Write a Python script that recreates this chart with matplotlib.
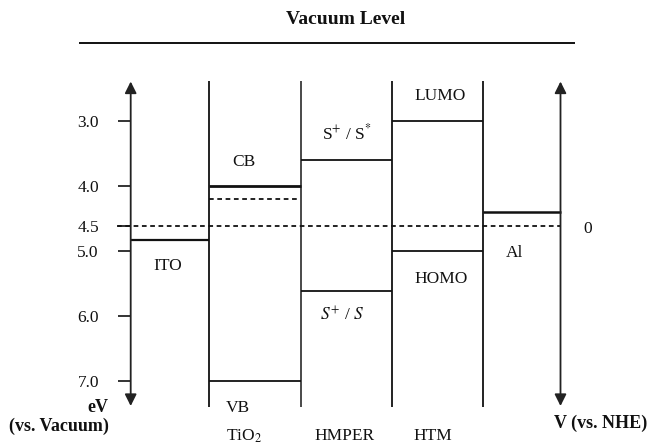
import numpy as np
import matplotlib
matplotlib.use("Agg")
import matplotlib.pyplot as plt

plt.rcParams['font.family'] = ['Liberation Serif', 'DejaVu Serif']
plt.rcParams['mathtext.fontset'] = 'stix'

# ---------------- data (energies in eV vs. vacuum) ----------------
materials = ["ITO", "TiO$_2$", "HMPER", "HTM", "Al"]
ito_work_function = 4.77
tio2_cb = 4.0
tio2_quasi_fermi = 4.16
tio2_vb = 7.0
dye_excited = 3.61      # S+/S*
dye_ground = 5.62       # S+/S
htm_lumo = 3.0
htm_homo = 5.0
al_work_function = 4.33
nhe_zero = 4.5
ev_ticks = [3.0, 4.0, 4.5, 5.0, 6.0, 7.0]
ev_tick_labels = ["3.0", "4.0", "4.5", "5.0", "6.0", "7.0"]

# ---------------- scale: original axis is stretched around 4.5 eV ----------------
def fwd(v):
    v = np.asarray(v, dtype=float)
    return v + np.interp(v, [4.0, 4.5, 5.0], [0.0, 0.12, 0.0])

def inv(t):
    t = np.asarray(t, dtype=float)
    return t + np.interp(t, [4.0, 4.62, 5.0], [0.0, -0.12, 0.0])

W, H = 651, 445
PX_PER_EV = 65.1
Y3 = 120.7

def ev_at(p):
    """layout helper: pixel row -> energy value on the scale"""
    return float(inv(3.0 + (p - Y3) / PX_PER_EV))

fig = plt.figure(figsize=(W / 100, H / 100), dpi=100)
ax = fig.add_axes([0, 0, 1, 1])
ax.set_xlim(0, W)
ax.set_yscale('function', functions=(fwd, inv))
ax.set_ylim(ev_at(H), ev_at(0))
for s in ax.spines.values():
    s.set_visible(False)

edges = [130.7, 209, 300.7, 391.7, 483, 560.5]
ink = '#111111'
gray = '#3a3a3a'

# column separators
ax.vlines(edges[1:-1], ev_at(406.7), ev_at(81), colors=[ink, gray, ink, ink], lw=1.3)

# energy axes (double arrows)
for xe in (edges[0], edges[-1]):
    ax.annotate('', xy=(xe, ev_at(81.5)), xytext=(xe, ev_at(406)),
                arrowprops=dict(arrowstyle='<|-|>,head_length=0.7,head_width=0.35',
                                color='#222222', lw=1.3,
                                mutation_scale=10, shrinkA=0, shrinkB=0))

# y ticks on the left arrow
ax.spines['left'].set_position(('data', edges[0]))
ax.set_yticks(ev_ticks, ev_tick_labels)
ax.set_yticks([], minor=True)
ax.tick_params(axis='y', direction='out', length=9.4, width=1.2, pad=13.5,
               labelsize=12.5, colors=ink)
ax.tick_params(axis='x', bottom=False, labelbottom=False)

# energy levels
ax.hlines(ito_work_function, edges[0], edges[1], colors=ink, lw=1.6)
ax.hlines(tio2_cb, edges[1], edges[2], colors=ink, lw=2.0)
ax.hlines(tio2_quasi_fermi, edges[1], 298, colors=ink, lw=1.3, linestyles=(0, (2.6, 2.0)))
ax.hlines(tio2_vb, edges[1], edges[2], colors=ink, lw=1.3)
ax.hlines(dye_excited, edges[2], edges[3], colors=ink, lw=1.3)
ax.hlines(dye_ground, edges[2], edges[3], colors=ink, lw=1.3)
ax.hlines(htm_lumo, edges[3], edges[4], colors=ink, lw=1.3)
ax.hlines(htm_homo, edges[3], edges[4], colors=ink, lw=1.3)
ax.hlines(al_work_function, edges[4], edges[5], colors=ink, lw=1.8)
ax.hlines(nhe_zero, 117, 561, colors=ink, lw=1.3, linestyles=(0, (2.6, 2.0)))

# vacuum level
ax.hlines(ev_at(43), 79, 575, colors=ink, lw=1.4)

def t(x, y, s, size=12.5, **kw):
    fig.text(x / W, 1 - y / H, s, ha=kw.pop('ha', 'center'), va='center',
             fontsize=size, color=ink, **kw)

t(346, 20, "Vacuum Level", size=14, fontweight='bold')
t(168, 266, materials[0])
t(244, 162, "CB")
t(238, 408, "VB")
t(347, 133, "S$^{+}$ / S$^{*}$")
t(342, 315, "$S^{+}$ / $S$")
t(440, 96, "LUMO")
t(441, 279, "HOMO")
t(515, 253, materials[4])
t(588, 229, "0")
t(244, 436, materials[1])
t(345, 436, materials[2])
t(433, 436, materials[3])
t(108, 408, "eV", size=13, fontweight='bold', ha='right')
t(59, 426, "(vs. Vacuum)", size=13, fontweight='bold')
t(601, 423, "V (vs. NHE)", size=13, fontweight='bold')

fig.savefig("out.png", dpi=100)
